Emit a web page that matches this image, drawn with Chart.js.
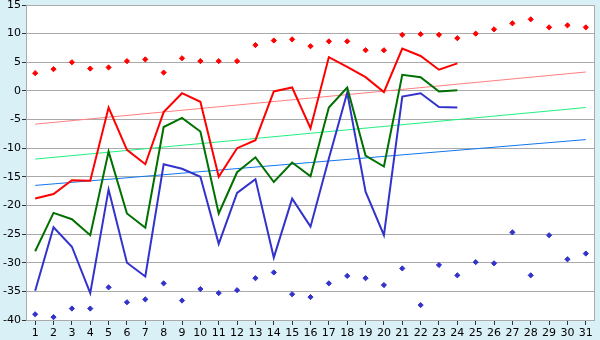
<!DOCTYPE html>
<html>
<head>
<meta charset="utf-8">
<script src="https://cdn.jsdelivr.net/npm/chart.js@4/dist/chart.umd.min.js"></script>
<style>
  html, body { margin: 0; padding: 0; background: #d9f0f7; }
  #wrap { width: 600px; height: 340px; }
</style>
</head>
<body>
<div id="wrap"><canvas id="c" width="600" height="340"></canvas></div>
<script>
const days = ['1','2','3','4','5','6','7','8','9','10','11','12','13','14','15','16','17','18','19','20','21','22','23','24','25','26','27','28','29','30','31'];
const yTicks = [15, 10, 5, 0, -5, -10, -15, -20, -25, -30, -35, -40];

const maxTemp = [-18.8, -18.0, -15.6, -15.7, -2.9, -10.3, -12.8, -3.7, -0.4, -1.9, -15.0, -10.0, -8.6, -0.1, 0.6, -6.5, 5.9, 4.2, 2.4, -0.2, 7.4, 6.1, 3.7, 4.8];
const meanTemp = [-28.0, -21.3, -22.4, -25.2, -10.6, -21.4, -23.9, -6.3, -4.7, -7.1, -21.4, -14.2, -11.6, -15.9, -12.5, -14.9, -2.9, 0.6, -11.3, -13.2, 2.8, 2.4, -0.1, 0.1];
const minTemp = [-34.9, -23.8, -27.2, -35.3, -17.2, -30.0, -32.4, -12.8, -13.6, -15.0, -26.7, -17.8, -15.4, -29.1, -18.8, -23.7, -11.8, -0.3, -17.6, -25.2, -1.0, -0.4, -2.8, -2.9];

const recordHigh = [3.1, 3.8, 5.0, 3.9, 4.1, 5.2, 5.5, 3.2, 5.7, 5.2, 5.2, 5.2, 8.0, 8.8, 9.0, 7.8, 8.65, 8.65, 7.1, 7.1, 9.8, 9.9, 9.8, 9.2, 10.0, 10.75, 11.8, 12.5, 11.1, 11.45, 11.1];
const recordLow = [-39.0, -39.5, -38.0, -38.0, -34.3, -36.9, -36.4, -33.6, -36.6, -34.6, -35.3, -34.8, -32.7, -31.7, -35.5, -36.0, -33.6, -32.3, -32.7, -33.9, -31.0, -37.4, -30.4, -32.2, -29.9, -30.1, -24.7, -32.2, -25.2, -29.4, -28.4];

// normal (trend) lines: value on first day, value on last day
const normalHigh = [-5.8, 3.3];
const normalMean = [-11.9, -2.9];
const normalLow = [-16.5, -8.5];

function ends(arr) {
  return [{x: days[0], y: arr[0]}, {x: days[days.length - 1], y: arr[1]}];
}

const bgPlugin = {
  id: 'bg',
  beforeDraw(chart) {
    const {ctx, chartArea: a} = chart;
    ctx.save();
    ctx.fillStyle = '#d9f0f7';
    ctx.fillRect(0, 0, chart.width, chart.height);
    ctx.fillStyle = '#ffffff';
    ctx.fillRect(a.left, a.top, a.right - a.left, a.bottom - a.top);
    ctx.restore();
  },
  beforeDatasetsDraw(chart) {
    const {ctx, chartArea: a} = chart;
    ctx.save();
    ctx.strokeStyle = '#aaaaaa';
    ctx.lineWidth = 1;
    ctx.strokeRect(Math.round(a.left) + 0.5, Math.round(a.top) + 0.5, Math.round(a.right - a.left) - 1, Math.round(a.bottom - a.top));
    ctx.restore();
  }
};

const lineDs = (data, color, order) => ({
  type: 'line', data, borderColor: color, backgroundColor: color, borderWidth: 2,
  pointRadius: 0, tension: 0, fill: false, order
});
const trendDs = (arr, color) => ({
  type: 'line', data: ends(arr), borderColor: color, borderWidth: 1,
  pointRadius: 0, tension: 0, fill: false, order: 10
});
const dotDs = (data, color) => ({
  type: 'line', data, showLine: false, pointStyle: 'rectRot', pointRadius: 2.6,
  pointBorderWidth: 1, pointBorderColor: color, pointBackgroundColor: color, borderColor: color, order: 1
});

new Chart(document.getElementById('c'), {
  type: 'line',
  data: {
    labels: days,
    datasets: [
      dotDs(recordHigh, '#ff0000'),
      dotDs(recordLow, '#3333cc'),
      lineDs(maxTemp, '#ff0000', 2),
      lineDs(meanTemp, '#007000', 3),
      lineDs(minTemp, '#3333cc', 4),
      trendDs(normalHigh, '#ff8080'),
      trendDs(normalMean, '#22f080'),
      trendDs(normalLow, '#1177ee')
    ]
  },
  options: {
    responsive: false,
    animation: false,
    devicePixelRatio: 1,
    layout: { padding: { top: 5, right: 5, left: 0, bottom: 0 } },
    plugins: { legend: { display: false }, tooltip: { enabled: false } },
    scales: {
      x: {
        type: 'category',
        offset: true,
        border: { display: false },
        grid: { drawOnChartArea: false, drawTicks: true, tickLength: 5, tickColor: '#333333' },
        ticks: { autoSkip: false, maxRotation: 0, padding: 2, color: '#000', font: { family: 'DejaVu Sans', size: 11 } },
        afterFit(s) { s.height = 20; s.paddingLeft = 0; s.paddingRight = 0; }
      },
      y: {
        min: -40, max: 15,
        border: { display: false },
        grid: { color: '#aaaaaa', tickColor: '#333333', tickLength: 4 },
        afterBuildTicks(s) { s.ticks = yTicks.map(v => ({ value: v })); },
        ticks: { padding: 1, color: '#000', font: { family: 'DejaVu Sans', size: 11 } },
        afterFit(s) { s.width = 26; s.paddingTop = 0; s.paddingBottom = 0; }
      }
    }
  },
  plugins: [bgPlugin]
});
</script>
</body>
</html>
